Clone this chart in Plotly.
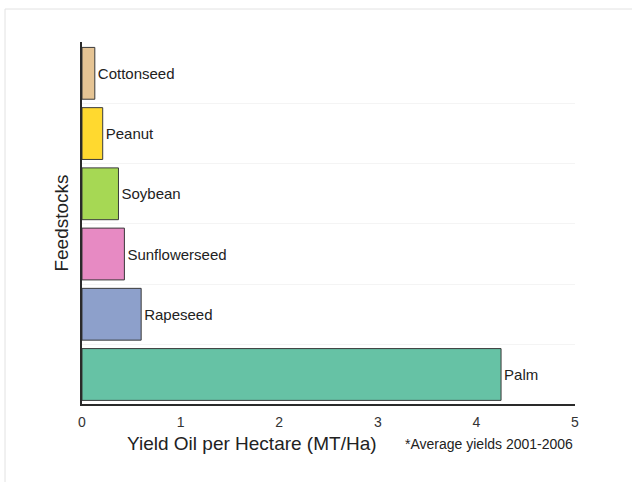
import plotly.graph_objects as go

categories = ["Palm", "Rapeseed", "Sunflowerseed", "Soybean", "Peanut", "Cottonseed"]
yields = [4.25, 0.6, 0.43, 0.37, 0.21, 0.13]
colors = ["#66c2a5", "#8da0cb", "#e78ac3", "#a6d854", "#ffd92f", "#e5c494"]
x_ticks = [0, 1, 2, 3, 4, 5]

positions = list(range(len(categories)))

FONT = "Liberation Sans, Arial, sans-serif"
H_PLOT = 362
W_PLOT = 493

fig = go.Figure()
fig.add_trace(go.Bar(
    x=yields,
    y=positions,
    orientation="h",
    width=0.86,
    marker=dict(color=colors, line=dict(color="#3a3a3a", width=1)),
    text=categories,
    textposition="outside",
    cliponaxis=False,
    textfont=dict(family=FONT, size=15, color="#222222"),
    hoverinfo="x+text",
))

fig.update_layout(
    width=633,
    height=482,
    paper_bgcolor="white",
    plot_bgcolor="white",
    margin=dict(l=82, r=58, t=42, b=78),
    showlegend=False,
    font=dict(family=FONT, color="#222222"),
    xaxis=dict(
        range=[0, 5],
        tickvals=x_ticks,
        ticktext=[str(v) for v in x_ticks],
        showgrid=False,
        zeroline=False,
        showline=True,
        linecolor="#2a2a2a",
        linewidth=1.5,
        ticks="outside",
        ticklen=4,
        tickcolor="rgba(0,0,0,0)",
        tickfont=dict(size=14, color="#333333"),
        fixedrange=True,
    ),
    yaxis=dict(
        range=[-0.49, 5.52],
        tickvals=[0.5, 1.5, 2.5, 3.5, 4.5],
        ticktext=["", "", "", "", ""],
        showgrid=True,
        gridcolor="#f4f4f4",
        gridwidth=1,
        zeroline=False,
        showline=True,
        linecolor="#2a2a2a",
        linewidth=1.5,
        ticks="",
        title=dict(text="Feedstocks", font=dict(size=19, color="#222222"), standoff=4),
        fixedrange=True,
    ),
    shapes=[
        dict(type="line", xref="paper", yref="paper", x0=-77 / W_PLOT, x1=550 / W_PLOT,
             y0=1.0 + 33 / H_PLOT, y1=1.0 + 33 / H_PLOT,
             line=dict(color="#e2e2e2", width=1)),
        dict(type="line", xref="paper", yref="paper", x0=-77 / W_PLOT, x1=-77 / W_PLOT,
             y0=-78 / H_PLOT, y1=1.0 + 33 / H_PLOT,
             line=dict(color="#e2e2e2", width=1)),
    ],
    annotations=[
        dict(text="Yield Oil per Hectare (MT/Ha)", xref="paper", yref="paper",
             x=43 / W_PLOT, y=-39 / H_PLOT, xanchor="left", yanchor="middle", showarrow=False,
             font=dict(size=19, color="#222222")),
        dict(text="*Average yields 2001-2006", xref="paper", yref="paper", x=1.0, y=-40 / H_PLOT,
             xanchor="right", yanchor="middle", showarrow=False,
             font=dict(size=14, color="#222222")),
    ],
)

fig.write_html("out.html", config={"displayModeBar": False},
               post_script="document.body.style.margin='0';")
